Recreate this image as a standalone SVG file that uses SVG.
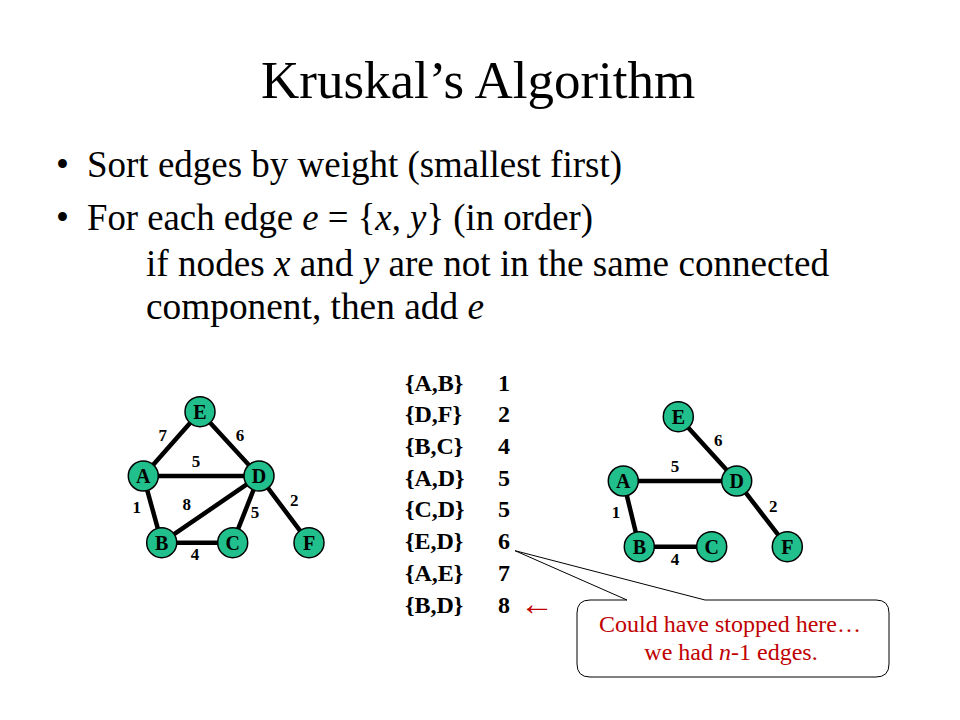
<svg xmlns="http://www.w3.org/2000/svg" width="960" height="720" viewBox="0 0 960 720">
<style>
.serif{font-family:"Liberation Serif","Times New Roman",serif;}
.title{font-size:53px;fill:#000;}
.body{font-size:37px;fill:#000;}
.tab{font-size:24px;font-weight:bold;fill:#000;}
.edge{stroke:#000;stroke-width:4.5;stroke-linecap:round;}
.node circle{fill:#21bf8c;stroke:#000;stroke-width:1.5;}
.node text{font-family:"Liberation Serif","Times New Roman",serif;font-size:20px;font-weight:bold;text-anchor:middle;fill:#000;}
.wt{font-family:"Liberation Serif","Times New Roman",serif;font-size:17px;font-weight:bold;text-anchor:middle;fill:#000;}
.red{fill:#c00000;}
.call{font-size:24px;text-anchor:middle;fill:#c00000;}
</style>
<rect width="960" height="720" fill="#fff"/>
<text class="serif title" x="261" y="98">Kruskal’s Algorithm</text>
<g class="serif body">
<text x="56" y="177">•</text>
<text x="87" y="177" textLength="535" lengthAdjust="spacingAndGlyphs">Sort edges by weight (smallest  first)</text>
<text x="56" y="230">•</text>
<text x="87" y="230" textLength="506" lengthAdjust="spacingAndGlyphs">For each edge <tspan font-style="italic">e</tspan> = {<tspan font-style="italic">x</tspan>, <tspan font-style="italic">y</tspan>} (in order)</text>
<text x="146" y="276" textLength="683" lengthAdjust="spacingAndGlyphs">if nodes <tspan font-style="italic">x</tspan> and <tspan font-style="italic">y</tspan> are not in the same connected</text>
<text x="146" y="319" textLength="338" lengthAdjust="spacingAndGlyphs">component, then add <tspan font-style="italic">e</tspan></text>
</g>
<g id="table" class="serif tab">
<text x="405" y="391">{A,B}</text><text x="498" y="391">1</text>
<text x="405" y="422">{D,F}</text><text x="498" y="422">2</text>
<text x="405" y="454">{B,C}</text><text x="498" y="454">4</text>
<text x="405" y="486">{A,D}</text><text x="498" y="486">5</text>
<text x="405" y="517">{C,D}</text><text x="498" y="517">5</text>
<text x="405" y="549">{E,D}</text><text x="498" y="549">6</text>
<text x="405" y="581">{A,E}</text><text x="498" y="581">7</text>
<text x="405" y="613">{B,D}</text><text x="498" y="613">8</text>
<text x="520" y="615" font-weight="normal" font-size="34" class="red" font-family="'Liberation Serif','DejaVu Serif',serif">←</text>
</g>
<g id="connectors">
<g id="left-edges">
<line class="edge" x1="143.3" y1="476" x2="200" y2="411.7"/>
<line class="edge" x1="200" y1="411.7" x2="259" y2="476"/>
<line class="edge" x1="143.3" y1="476" x2="259" y2="476"/>
<line class="edge" x1="143.3" y1="476" x2="161.7" y2="542.7"/>
<line class="edge" x1="161.7" y1="542.7" x2="259" y2="476"/>
<line class="edge" x1="259" y1="476" x2="232.7" y2="542.7"/>
<line class="edge" x1="259" y1="476" x2="309" y2="542.7"/>
<line class="edge" x1="161.7" y1="542.7" x2="232.7" y2="542.7"/>
</g>
<g id="right-edges">
<line class="edge" x1="623.3" y1="481" x2="639.3" y2="546.7"/>
<line class="edge" x1="639.3" y1="546.7" x2="711.7" y2="546.7"/>
<line class="edge" x1="623.3" y1="481" x2="736.7" y2="481"/>
<line class="edge" x1="678.3" y1="416.7" x2="736.7" y2="481"/>
<line class="edge" x1="736.7" y1="481" x2="787.3" y2="546.7"/>
</g>
</g>
<g id="left-weights">
<text class="wt" x="162.7" y="441">7</text>
<text class="wt" x="240" y="441">6</text>
<text class="wt" x="196" y="467">5</text>
<text class="wt" x="186.7" y="510">8</text>
<text class="wt" x="136.7" y="513">1</text>
<text class="wt" x="255" y="518">5</text>
<text class="wt" x="294.3" y="506">2</text>
<text class="wt" x="195" y="560">4</text>
</g>
<g id="right-weights">
<text class="wt" x="718.3" y="446">6</text>
<text class="wt" x="675" y="472">5</text>
<text class="wt" x="616" y="518">1</text>
<text class="wt" x="773.3" y="512">2</text>
<text class="wt" x="675" y="565">4</text>
</g>
<g id="L-E" class="node"><circle cx="200" cy="411.7" r="15"/><text x="200" y="418.7">E</text></g>
<g id="L-A" class="node"><circle cx="143.3" cy="476" r="15"/><text x="143.3" y="483">A</text></g>
<g id="L-D" class="node"><circle cx="259" cy="476" r="15"/><text x="259" y="483">D</text></g>
<g id="L-B" class="node"><circle cx="161.7" cy="542.7" r="15"/><text x="161.7" y="549.7">B</text></g>
<g id="L-C" class="node"><circle cx="232.7" cy="542.7" r="15"/><text x="232.7" y="549.7">C</text></g>
<g id="L-F" class="node"><circle cx="309" cy="542.7" r="15"/><text x="309" y="549.7">F</text></g>
<g id="R-E" class="node"><circle cx="678.3" cy="416.7" r="15"/><text x="678.3" y="423.7">E</text></g>
<g id="R-A" class="node"><circle cx="623.3" cy="481" r="15"/><text x="623.3" y="488">A</text></g>
<g id="R-D" class="node"><circle cx="736.7" cy="481" r="15"/><text x="736.7" y="488">D</text></g>
<g id="R-B" class="node"><circle cx="639.3" cy="546.7" r="15"/><text x="639.3" y="553.7">B</text></g>
<g id="R-C" class="node"><circle cx="711.7" cy="546.7" r="15"/><text x="711.7" y="553.7">C</text></g>
<g id="R-F" class="node"><circle cx="787.3" cy="546.7" r="15"/><text x="787.3" y="553.7">F</text></g>
<g id="callout">
<path d="M 590 600 L 627 600 L 515 550.7 L 705 600 L 876 600 Q 889 600 889 613 L 889 664 Q 889 677 876 677 L 590 677 Q 577 677 577 664 L 577 613 Q 577 600 590 600 Z" fill="#fff" stroke="#000" stroke-width="1"/>
<text class="serif call" x="730" y="632">Could have stopped here…</text>
<text class="serif call" x="731" y="660">we had <tspan font-style="italic">n</tspan>-1 edges.</text>
</g>
</svg>
